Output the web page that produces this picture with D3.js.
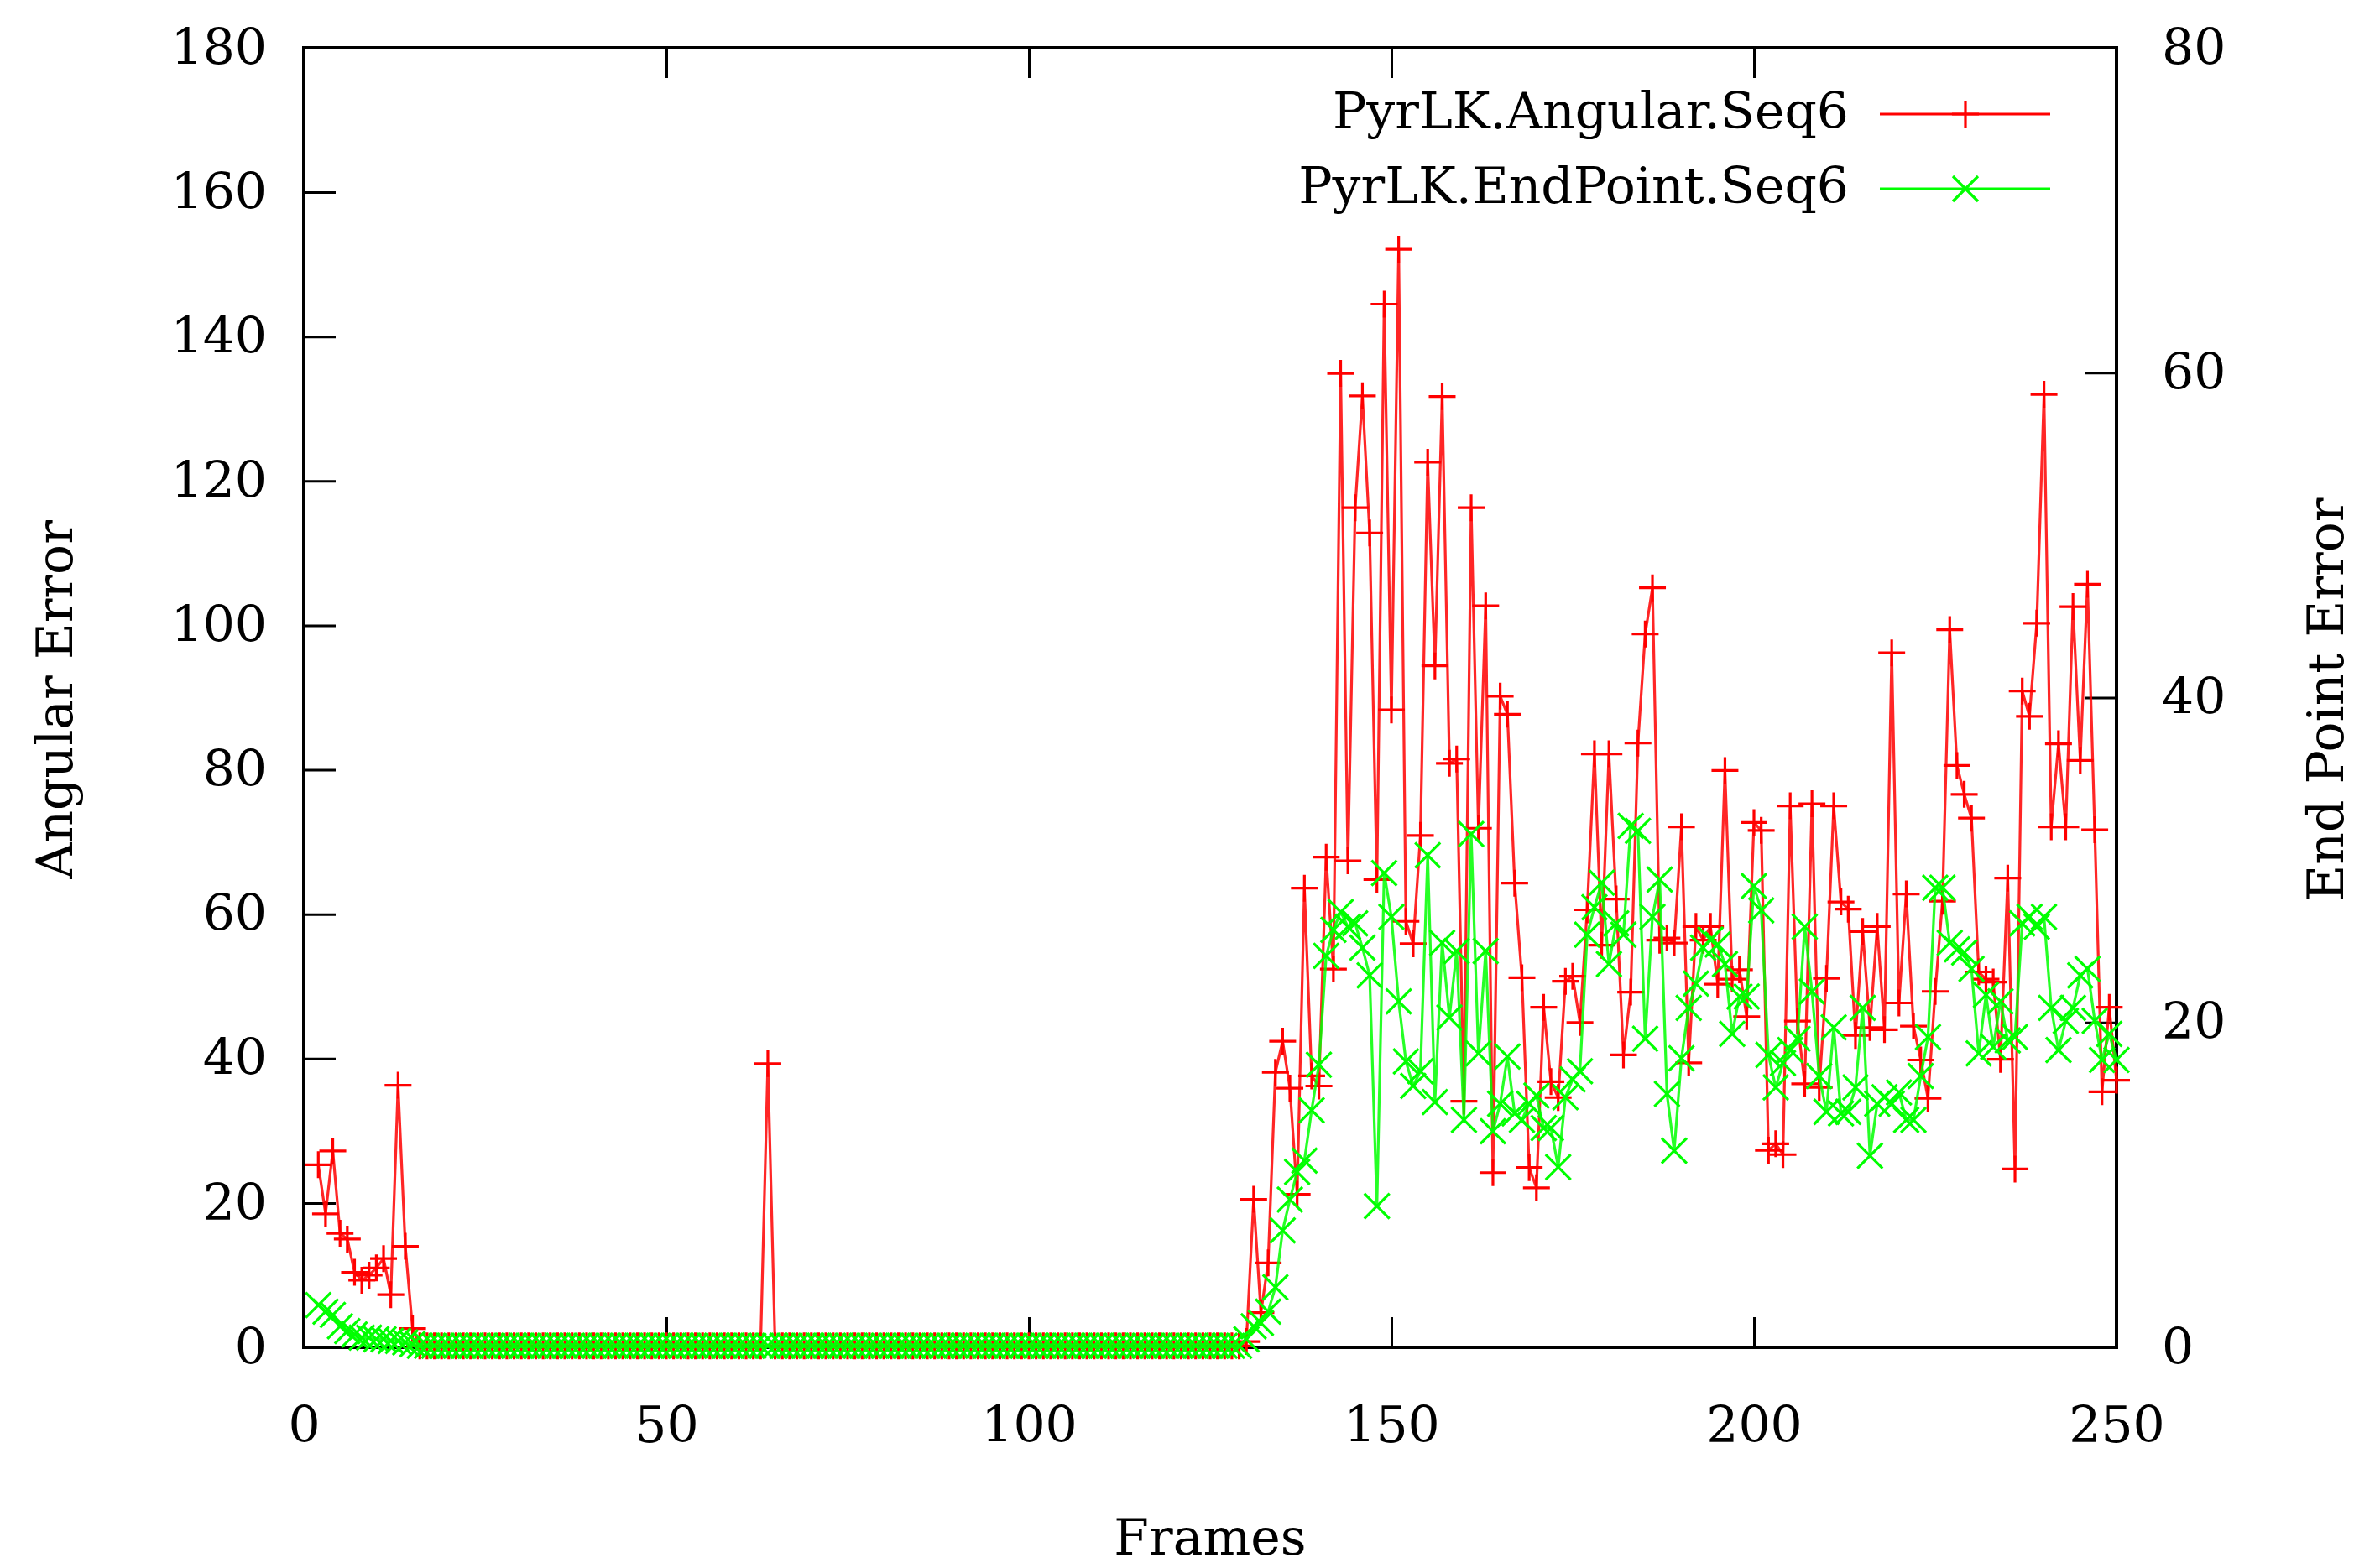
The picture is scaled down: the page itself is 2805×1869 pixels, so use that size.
<!DOCTYPE html>
<html>
<head>
<meta charset="utf-8">
<script src="https://d3js.org/d3.v7.min.js"></script>
<style>
body { margin: 0; background: #fff; }
text { font-family: "DejaVu Serif", serif; fill: #000; }
</style>
</head>
<body>
<script>
var width = 2805,
    height = 1869;

// frame numbers (first sample is frame 2)
var frames = d3.range(2, 251);

// PyrLK.Angular.Seq6 (left axis), frames 2..250
var angular = [
  25.3, 18.5, 27.2, 15.8, 15.0, 10.4, 9.3, 10.0, 11.0, 12.3, 7.3, 36.3, 14.0, 2.6,
  0.2, 0.2, 0.2, 0.2, 0.2, 0.2, 0.2, 0.2, 0.2, 0.2,
  0.2, 0.2, 0.2, 0.2, 0.2, 0.2, 0.2, 0.2, 0.2, 0.2,
  0.2, 0.2, 0.2, 0.2, 0.2, 0.2, 0.2, 0.2, 0.2, 0.2,
  0.2, 0.2, 0.2, 0.2, 0.2, 0.2, 0.2, 0.2, 0.2, 0.2,
  0.2, 0.2, 0.2, 0.2, 0.2, 0.2, 0.2, 0.2,
  39.3,
  0.2, 0.2, 0.2, 0.2, 0.2, 0.2, 0.2, 0.2, 0.2, 0.2,
  0.2, 0.2, 0.2, 0.2, 0.2, 0.2, 0.2, 0.2, 0.2, 0.2,
  0.2, 0.2, 0.2, 0.2, 0.2, 0.2, 0.2, 0.2, 0.2, 0.2,
  0.2, 0.2, 0.2, 0.2, 0.2, 0.2, 0.2, 0.2, 0.2, 0.2,
  0.2, 0.2, 0.2, 0.2, 0.2, 0.2, 0.2, 0.2, 0.2, 0.2,
  0.2, 0.2, 0.2, 0.2, 0.2, 0.2, 0.2, 0.2, 0.2, 0.2,
  0.2, 0.2, 0.2, 0.2, 0.2,
  0.8, 20.5, 4.8, 11.7, 38.1, 42.4, 35.9, 21.2, 63.6, 37.6, 36.2,
  67.9, 52.4, 134.9, 67.4, 116.3, 131.8, 112.8, 64.8, 144.5, 88.3,
  152.1, 59.0, 55.9, 70.9, 122.6, 94.4, 131.7, 80.9, 81.5, 34.1,
  116.3, 71.9, 102.7, 24.2, 90.2, 87.7, 64.3, 51.2, 24.9, 22.1,
  47.1, 36.8, 34.6, 50.7, 51.4, 45.0, 60.6, 82.2, 55.7, 82.2,
  62.1, 40.5, 49.2, 83.7, 98.8, 105.2, 56.4, 56.7, 56.0, 72.1,
  39.4, 58.3, 56.4, 58.3, 50.3, 79.9, 51.0, 52.3, 45.8, 72.7,
  71.6, 27.3, 28.2, 26.7, 75.0, 45.2, 36.5, 75.3, 36.0, 51.1,
  75.0, 61.7, 60.7, 43.2, 57.6, 44.3, 58.3, 44.0, 96.2, 47.7,
  62.8, 44.5, 39.8, 34.5, 49.3, 61.8, 99.4, 80.6, 76.6, 73.3,
  52.0, 51.0, 50.6, 39.9, 65.0, 24.7, 90.9, 87.4, 100.3, 132.0,
  72.1, 83.6, 72.1, 102.6, 81.3, 105.7, 71.7, 35.4, 47.1, 37.0
];

// PyrLK.EndPoint.Seq6 (right axis), frames 2..250
var endpoint = [
  2.6, 2.2, 2.0, 1.3, 1.0, 0.8, 0.6, 0.6, 0.5, 0.5, 0.4, 0.4, 0.3, 0.2,
  0.1, 0.1, 0.1, 0.1, 0.1, 0.1, 0.1, 0.1, 0.1, 0.1,
  0.1, 0.1, 0.1, 0.1, 0.1, 0.1, 0.1, 0.1, 0.1, 0.1,
  0.1, 0.1, 0.1, 0.1, 0.1, 0.1, 0.1, 0.1, 0.1, 0.1,
  0.1, 0.1, 0.1, 0.1, 0.1, 0.1, 0.1, 0.1, 0.1, 0.1,
  0.1, 0.1, 0.1, 0.1, 0.1, 0.1, 0.1, 0.1, 0.1, 0.1,
  0.1, 0.1, 0.1, 0.1, 0.1, 0.1, 0.1, 0.1, 0.1, 0.1,
  0.1, 0.1, 0.1, 0.1, 0.1, 0.1, 0.1, 0.1, 0.1, 0.1,
  0.1, 0.1, 0.1, 0.1, 0.1, 0.1, 0.1, 0.1, 0.1, 0.1,
  0.1, 0.1, 0.1, 0.1, 0.1, 0.1, 0.1, 0.1, 0.1, 0.1,
  0.1, 0.1, 0.1, 0.1, 0.1, 0.1, 0.1, 0.1, 0.1, 0.1,
  0.1, 0.1, 0.1, 0.1, 0.1, 0.1, 0.1, 0.1, 0.1, 0.1,
  0.1, 0.1, 0.1, 0.1,
  0.5, 1.3, 1.5, 2.2, 3.7, 7.2, 9.1, 10.8, 11.5, 14.6, 17.4,
  24.1, 25.7, 26.8, 25.9, 26.1, 24.6, 22.9, 8.7, 29.2, 26.5,
  21.3, 17.6, 16.1, 17.0, 30.3, 15.1, 24.9, 20.3, 24.4, 14.0,
  31.6, 18.1, 24.4, 13.3, 15.0, 17.9, 14.4, 14.0, 15.0, 15.5,
  13.5, 13.5, 11.1, 15.4, 16.5, 17.0, 25.4, 27.1, 28.6, 23.6,
  26.1, 25.4, 32.1, 31.8, 19.0, 26.5, 28.8, 15.6, 12.1, 17.8,
  20.9, 22.4, 24.6, 25.1, 24.8, 23.6, 19.3, 21.6, 21.6, 28.4,
  26.9, 18.0, 16.0, 17.5, 18.3, 19.0, 25.9, 21.9, 16.7, 14.5,
  19.7, 14.4, 14.5, 16.0, 20.9, 11.8, 15.0, 15.4, 15.0, 15.7,
  14.0, 14.0, 16.7, 19.1, 28.3, 28.3, 24.9, 24.5, 24.3, 23.3,
  18.1, 21.7, 18.5, 21.3, 18.9, 19.1, 26.1, 26.5, 25.9, 26.5,
  20.9, 18.3, 20.1, 20.9, 22.9, 23.3, 20.1, 17.7, 19.3, 17.7
];

var xTicks = [0, 50, 100, 150, 200, 250],
    yTicks = [0, 20, 40, 60, 80, 100, 120, 140, 160, 180],
    y2Ticks = [0, 20, 40, 60, 80];

var seriesNames = ["PyrLK.Angular.Seq6", "PyrLK.EndPoint.Seq6"];

var plot = {x0: 362, x1: 2522, y0: 57, y1: 1606};

var svg = d3.select("body").append("svg")
    .attr("width", width)
    .attr("height", height);

var x = d3.scaleLinear().domain([0, 250]).range([plot.x0, plot.x1]);
var yL = d3.scaleLinear().domain([0, 180]).range([plot.y1, plot.y0]);
var yR = d3.scaleLinear().domain([0, 80]).range([plot.y1, plot.y0]);

//axes with inward ticks like gnuplot
function styleAxis(g) {
    g.attr("font-family", "DejaVu Serif, serif").attr("font-size", 60);
    g.select(".domain").remove();
    g.selectAll(".tick line").attr("stroke", "#000").attr("stroke-width", 3);
    g.selectAll(".tick text").attr("fill", "#000");
}

svg.append("g")
    .attr("transform", "translate(0," + plot.y1 + ")")
    .call(d3.axisBottom(x).tickValues(xTicks).tickSize(-36).tickPadding(70))
    .call(styleAxis);

svg.append("g")
    .attr("transform", "translate(0," + plot.y0 + ")")
    .call(d3.axisTop(x).tickValues(xTicks).tickSize(-36).tickFormat(""))
    .call(styleAxis);

svg.append("g")
    .attr("transform", "translate(" + plot.x0 + ",0)")
    .call(d3.axisLeft(yL).tickValues(yTicks).tickSize(-38).tickPadding(44))
    .call(styleAxis);

svg.append("g")
    .attr("transform", "translate(" + plot.x1 + ",0)")
    .call(d3.axisRight(yR).tickValues(y2Ticks).tickSize(-38).tickPadding(54))
    .call(styleAxis);

//border
svg.append("rect")
    .attr("x", plot.x0)
    .attr("y", plot.y0)
    .attr("width", plot.x1 - plot.x0)
    .attr("height", plot.y1 - plot.y0)
    .attr("fill", "none")
    .attr("stroke", "#000")
    .attr("stroke-width", 4);

//axis titles
svg.append("text")
    .attr("transform", "translate(86,834) rotate(-90)")
    .attr("text-anchor", "middle")
    .attr("font-size", 60)
    .text("Angular Error");

svg.append("text")
    .attr("transform", "translate(2792,834) rotate(-90)")
    .attr("text-anchor", "middle")
    .attr("font-size", 60)
    .text("End Point Error");

svg.append("text")
    .attr("x", (plot.x0 + plot.x1) / 2)
    .attr("y", 1853)
    .attr("text-anchor", "middle")
    .attr("font-size", 60)
    .text("Frames");

//series data
var angData = frames.map(function(f, i){ return {f: f, v: angular[i]}; });
var endData = frames.map(function(f, i){ return {f: f, v: endpoint[i]}; });

var plusPath = "M-16,0H16M0,-16V16",
    crossPath = "M-15,-15L15,15M-15,15L15,-15";

var series = [
    {name: seriesNames[0], data: angData, y: yL, color: "#ff0000", marker: plusPath},
    {name: seriesNames[1], data: endData, y: yR, color: "#00ff00", marker: crossPath}
];

series.forEach(function(s) {
    var line = d3.line()
        .x(function(d){ return x(d.f); })
        .y(function(d){ return s.y(d.v); });

    svg.append("path")
        .datum(s.data)
        .attr("fill", "none")
        .attr("stroke", s.color)
        .attr("stroke-width", 3.2)
        .attr("stroke-opacity", 0.85)
        .attr("stroke-linejoin", "round")
        .attr("d", line);

    svg.append("g")
        .selectAll("path")
        .data(s.data)
        .enter().append("path")
        .attr("d", s.marker)
        .attr("transform", function(d){ return "translate(" + x(d.f) + "," + s.y(d.v) + ")"; })
        .attr("fill", "none")
        .attr("stroke", s.color)
        .attr("stroke-width", 3.2);
});

//legend
var legend = svg.append("g")
    .selectAll("g")
    .data(series)
    .enter().append("g")
    .attr("transform", function(d, i){ return "translate(0," + (136 + i * 89) + ")"; });

legend.append("text")
    .attr("x", 2203)
    .attr("y", 17)
    .attr("text-anchor", "end")
    .attr("font-size", 60)
    .text(function(d){ return d.name; });

legend.append("line")
    .attr("x1", 2240)
    .attr("x2", 2443)
    .attr("y1", 0)
    .attr("y2", 0)
    .attr("stroke", function(d){ return d.color; })
    .attr("stroke-width", 3.2);

legend.append("path")
    .attr("d", function(d){ return d.marker; })
    .attr("transform", "translate(2342,0)")
    .attr("fill", "none")
    .attr("stroke", function(d){ return d.color; })
    .attr("stroke-width", 3.2);
</script>
</body>
</html>
